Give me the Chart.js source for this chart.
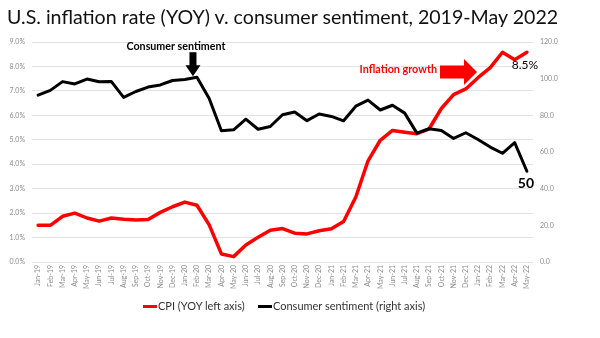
<!DOCTYPE html>
<html>
<head>
<meta charset="utf-8">
<script src="https://cdn.jsdelivr.net/npm/chart.js@4.4.0/dist/chart.umd.min.js"></script>
<style>
  body { margin: 0; background: #fff; }
  #wrap { position: relative; width: 600px; height: 338px; }
  #chart { position: absolute; left: 0; top: 0; }
  .title { position: absolute; left: 7px; top: 5px; font: 19.6px Lato, sans-serif; color: #111; white-space: nowrap; }
  .leg { position: absolute; top: 299px; font: 11px Lato, sans-serif; color: #333; white-space: nowrap; }
  .leg i { display: inline-block; width: 14px; height: 3px; vertical-align: middle; margin-right: 1px; position: relative; top: -1px; }
</style>
</head>
<body>
<div id="wrap">
  <canvas id="chart" width="600" height="338"></canvas>
  <div class="title">U.S. inflation rate (YOY) v. consumer sentiment, 2019-May 2022</div>
  <div class="leg" style="left:143px"><i style="background:#ff0000"></i>CPI (YOY left axis)</div>
  <div class="leg" style="left:258px"><i style="background:#000"></i>Consumer sentiment (right axis)</div>
</div>
<script>
const months = [
  'Jan-19','Feb-19','Mar-19','Apr-19','May-19','Jun-19','Jul-19','Aug-19','Sep-19','Oct-19','Nov-19','Dec-19',
  'Jan-20','Feb-20','Mar-20','Apr-20','May-20','Jun-20','Jul-20','Aug-20','Sep-20','Oct-20','Nov-20','Dec-20',
  'Jan-21','Feb-21','Mar-21','Apr-21','May-21','Jun-21','Jul-21','Aug-21','Sep-21','Oct-21','Nov-21','Dec-21',
  'Jan-22','Feb-22','Mar-22','Apr-22','May-22'
];

// CPI year over year, %
const cpi = [
  1.5, 1.5, 1.87, 2.0, 1.8, 1.67, 1.8, 1.75, 1.72, 1.74, 2.03, 2.26,
  2.45, 2.32, 1.52, 0.33, 0.22, 0.7, 1.01, 1.3, 1.37, 1.18, 1.15, 1.28,
  1.36, 1.66, 2.66, 4.14, 4.98, 5.38, 5.31, 5.25, 5.45, 6.28, 6.85, 7.08,
  7.54, 7.95, 8.58, 8.27, 8.58
];

// University of Michigan consumer sentiment index
const sentiment = [
  91.0, 93.6, 98.4, 97.1, 99.8, 98.3, 98.4, 89.8, 93.0, 95.4, 96.6, 99.0,
  99.5, 100.8, 89.2, 71.6, 72.1, 77.9, 72.4, 73.9, 80.3, 81.8, 77.1, 80.7,
  79.4, 77.0, 85.0, 88.3, 82.9, 85.5, 81.2, 70.3, 72.7, 71.7, 67.4, 70.5,
  66.8, 62.7, 59.3, 65.1, 49.5
];

const cpiTicks = [0, 1, 2, 3, 4, 5, 6, 7, 8, 9];
const sentTicks = [0, 20, 40, 60, 80, 100, 120];

const tickFont = { family: 'Lato', size: 7 };
const tickColor = '#8c8c8c';

const notes = {
  id: 'notes',
  afterDatasetsDraw(chart) {
    const { ctx, scales: { x, y1 } } = chart;
    ctx.save();

    // black arrow + label at the Feb-20 sentiment peak
    const k = months.indexOf('Feb-20');
    const tx = x.getPixelForValue(k) - 4;
    const ty = y1.getPixelForValue(sentiment[k]) - 1;
    ctx.fillStyle = '#000';
    ctx.fillRect(tx - 3.5, ty - 24, 7, 14);
    ctx.beginPath();
    ctx.moveTo(tx - 7.5, ty - 11);
    ctx.lineTo(tx + 7.5, ty - 11);
    ctx.lineTo(tx, ty);
    ctx.closePath();
    ctx.fill();
    ctx.font = 'bold 10.7px Lato';
    ctx.textAlign = 'center';
    ctx.textBaseline = 'middle';
    ctx.fillText('Consumer sentiment', tx - 17, ty - 30);

    // red block arrow for inflation growth
    const ax = 477, ay = 72;
    ctx.fillStyle = '#ff0000';
    ctx.fillRect(ax - 37, ay - 6.5, 24, 13);
    ctx.beginPath();
    ctx.moveTo(ax - 13, ay - 13);
    ctx.lineTo(ax, ay);
    ctx.lineTo(ax - 13, ay + 13);
    ctx.closePath();
    ctx.fill();
    ctx.font = 'bold 10.8px Lato';
    ctx.textAlign = 'right';
    ctx.fillText('Inflation growth', ax - 40, ay - 2);

    // end labels
    const last = months.length - 1;
    const lx = x.getPixelForValue(last);
    ctx.fillStyle = '#000';
    ctx.textAlign = 'center';
    ctx.font = '12px Lato';
    ctx.fillText('8.5%', lx - 2, chart.scales.y.getPixelForValue(cpi[last]) + 13);
    ctx.font = 'bold 14px Lato';
    ctx.fillText(String(Math.round(sentiment[last])), lx - 1, y1.getPixelForValue(sentiment[last]) + 12);
    ctx.restore();
  }
};

new Chart(document.getElementById('chart'), {
  type: 'line',
  data: {
    labels: months,
    datasets: [
      {
        label: 'CPI (YOY left axis)',
        data: cpi,
        yAxisID: 'y',
        borderColor: '#ff0000',
        borderWidth: 3.5,
        pointRadius: 0,
        tension: 0,
        order: 1
      },
      {
        label: 'Consumer sentiment (right axis)',
        data: sentiment,
        yAxisID: 'y1',
        borderColor: '#000000',
        borderWidth: 3,
        pointRadius: 0,
        tension: 0,
        order: 0
      }
    ]
  },
  options: {
    responsive: false,
    animation: false,
    layout: { padding: { top: 42, left: 0, right: 0, bottom: 0 } },
    plugins: {
      legend: { display: false },
      title: { display: false },
      tooltip: { enabled: false }
    },
    elements: { line: { borderJoinStyle: 'round', borderCapStyle: 'round' } },
    scales: {
      x: {
        offset: true,
        grid: { display: false, drawTicks: false },
        border: { display: false },
        ticks: {
          autoSkip: false, minRotation: 90, maxRotation: 90,
          font: tickFont, color: tickColor, padding: 3
        },
        afterFit: (s) => { s.height = 76; }
      },
      y: {
        position: 'left',
        min: 0, max: 9,
        afterBuildTicks: (s) => { s.ticks = cpiTicks.map(v => ({ value: v })); },
        grid: { color: '#e3e3e3', lineWidth: 1, drawTicks: false },
        border: { display: false },
        ticks: { font: tickFont, color: tickColor, padding: 7, callback: (v) => v.toFixed(1) + '%' },
        afterFit: (s) => { s.width = 32; }
      },
      y1: {
        position: 'right',
        min: 0, max: 120,
        afterBuildTicks: (s) => { s.ticks = sentTicks.map(v => ({ value: v })); },
        grid: { display: false, drawTicks: false },
        border: { display: false },
        ticks: { font: tickFont, color: tickColor, padding: 7, callback: (v) => v.toFixed(1) },
        afterFit: (s) => { s.width = 67; }
      }
    }
  },
  plugins: [notes]
});
</script>
</body>
</html>
